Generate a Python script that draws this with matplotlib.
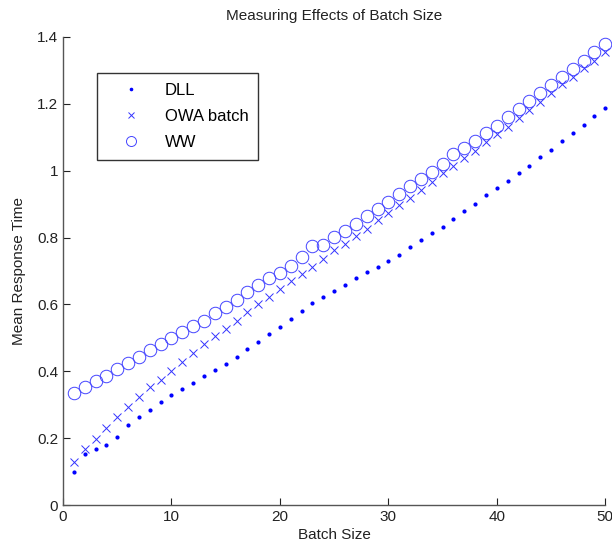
import matplotlib
matplotlib.use("Agg")
import matplotlib.pyplot as plt

plt.rcParams['font.family'] = ['Liberation Sans', 'DejaVu Sans']

batch = list(range(1, 51))

dll = [0.100, 0.153, 0.167, 0.179, 0.204, 0.239, 0.263, 0.284, 0.309, 0.330,
       0.347, 0.364, 0.386, 0.404, 0.421, 0.443, 0.467, 0.489, 0.511, 0.533,
       0.557, 0.581, 0.603, 0.622, 0.640, 0.659, 0.678, 0.696, 0.713, 0.730,
       0.749, 0.771, 0.792, 0.814, 0.833, 0.857, 0.880, 0.901, 0.926, 0.947,
       0.969, 0.993, 1.015, 1.040, 1.063, 1.088, 1.113, 1.138, 1.163, 1.187]

owa = [0.128, 0.167, 0.197, 0.232, 0.264, 0.294, 0.322, 0.352, 0.373, 0.401,
       0.428, 0.456, 0.481, 0.506, 0.528, 0.552, 0.576, 0.600, 0.623, 0.645,
       0.669, 0.691, 0.713, 0.736, 0.763, 0.781, 0.805, 0.827, 0.853, 0.873,
       0.897, 0.918, 0.943, 0.967, 0.992, 1.014, 1.037, 1.060, 1.086, 1.111,
       1.132, 1.157, 1.182, 1.206, 1.232, 1.258, 1.281, 1.306, 1.329, 1.356]

ww = [0.336, 0.352, 0.371, 0.386, 0.406, 0.426, 0.442, 0.464, 0.482, 0.499,
      0.518, 0.536, 0.551, 0.573, 0.593, 0.612, 0.638, 0.658, 0.678, 0.695,
      0.715, 0.741, 0.776, 0.778, 0.801, 0.821, 0.841, 0.864, 0.885, 0.906,
      0.931, 0.953, 0.975, 0.997, 1.020, 1.050, 1.067, 1.090, 1.112, 1.135,
      1.160, 1.184, 1.209, 1.233, 1.256, 1.281, 1.304, 1.329, 1.354, 1.379]

xticks = [0, 10, 20, 30, 40, 50]
yticks = [0, 0.2, 0.4, 0.6, 0.8, 1.0, 1.2, 1.4]
ytick_labels = ["0", "0.2", "0.4", "0.6", "0.8", "1", "1.2", "1.4"]

fig = plt.figure(figsize=(6.12, 5.52), dpi=100)
ax = fig.add_axes([0.103, 0.085, 0.886, 0.848])

blue = "#0000ff"
ax.plot(batch, dll, linestyle="none", marker=".", markersize=4, color=blue,
        label="DLL", clip_on=False)
ax.plot(batch, owa, linestyle="none", marker="x", markersize=6, mew=0.7,
        color="#3333ff", label="OWA batch", clip_on=False)
ax.plot(batch, ww, linestyle="none", marker="o", markersize=9, mew=0.7,
        mfc="none", mec="#4444ff", label="WW", clip_on=False)

ax.set_xlim(0, 50)
ax.set_ylim(0, 1.4)
ax.set_xticks(xticks)
ax.set_yticks(yticks)
ax.set_yticklabels(ytick_labels)
ax.tick_params(direction="in", length=5, labelsize=11, colors="#222222", width=0.8)
for side in ["top", "right"]:
    ax.spines[side].set_visible(False)
for side in ["left", "bottom"]:
    ax.spines[side].set_color("#555555")
    ax.spines[side].set_linewidth(1.0)

ax.set_title("Measuring Effects of Batch Size", fontsize=11, pad=12, color="#222222")
ax.set_xlabel("Batch Size", fontsize=11, labelpad=3, color="#222222")
ax.set_ylabel("Mean Response Time", fontsize=11, labelpad=8, color="#222222")

leg = ax.legend(loc="upper left", bbox_to_anchor=(0.063, 0.923), borderaxespad=0,
                numpoints=1, fancybox=False, framealpha=1, edgecolor="#333333",
                fontsize=12, handlelength=2.9, handletextpad=0.55,
                labelspacing=0.65, borderpad=0.6, markerscale=0.8)
leg.get_frame().set_linewidth(1.0)

fig.savefig("out.png", dpi=100)
